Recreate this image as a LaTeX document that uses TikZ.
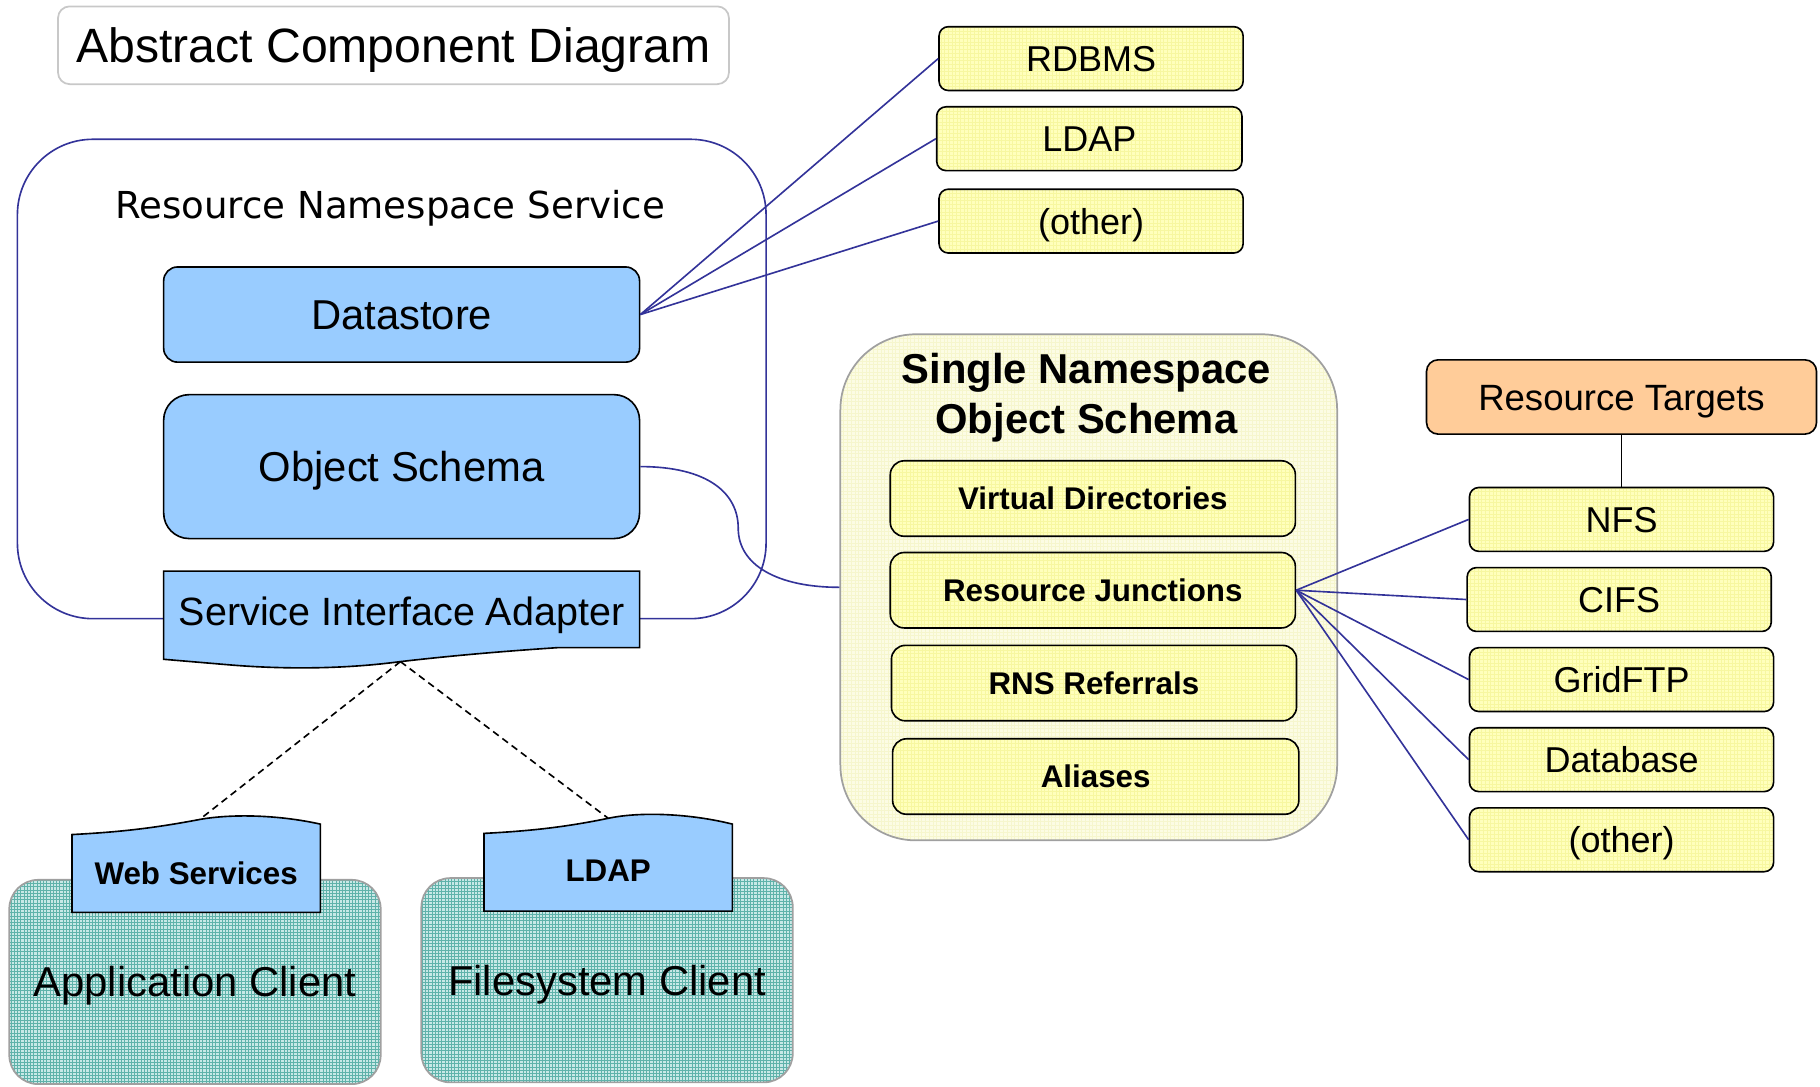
\documentclass[tikz,border=0pt]{standalone}
\usepackage{fontspec}
\setmainfont{Liberation Sans}
\newfontfamily\dejavu{DejaVu Sans}
\usetikzlibrary{calc}
\definecolor{navyline}{RGB}{51,51,153}
\definecolor{boxblue}{RGB}{153,204,255}
\definecolor{paleyel}{RGB}{255,255,188}
\definecolor{yelgrid}{RGB}{247,247,160}
\definecolor{schemabg}{RGB}{252,252,228}
\definecolor{schemagrid}{RGB}{246,246,205}
\definecolor{orangebox}{RGB}{255,204,153}
\definecolor{tealfill}{RGB}{200,232,230}
\definecolor{tealgrid}{RGB}{95,178,170}
\definecolor{titlegray}{RGB}{200,200,200}
\definecolor{midgray}{RGB}{160,160,160}
\begin{document}
\begin{tikzpicture}[x=1pt,y=-1pt,
  capc/.style={text height=#1, text depth=0pt},
  gridfill/.style 2 args={path picture={\draw[#1, line width=0.3pt, step=#2] (path picture bounding box.south west) grid (path picture bounding box.north east);}},
  conn/.style={draw=navyline, line width=1.4pt},
  blk/.style={draw=black, line width=1.4pt},
  bluebox/.style={blk, fill=boxblue, inner sep=0pt, rounded corners=12pt, font=\fontsize{36}{40}\selectfont, capc=25.8pt},
  yelbox/.style={blk, fill=paleyel, gridfill={yelgrid}{3.2pt}, inner sep=0pt, rounded corners=8pt, minimum width=262pt, minimum height=55pt, font=\fontsize{31}{36}\selectfont, capc=22.3pt},
  innerbox/.style={blk, fill=paleyel, gridfill={yelgrid}{3.2pt}, inner sep=0pt, rounded corners=12pt, minimum width=349pt, minimum height=65pt, font=\bfseries\fontsize{27}{32}\selectfont, capc=19.4pt},
  tealbox/.style={draw=midgray, line width=1.5pt, fill=tealfill, gridfill={tealgrid}{2.8pt}, inner sep=0pt, rounded corners=25pt, minimum width=320pt, minimum height=176pt, font=\fontsize{36}{40}\selectfont, capc=25.8pt},
  tabtext/.style={font=\bfseries\fontsize{27}{32}\selectfont, inner sep=0pt, capc=19.4pt},
  plaintext/.style={inner sep=0pt},
  dashconn/.style={line width=1.4pt, dash pattern=on 6pt off 4pt}]
\useasboundingbox (0,0) rectangle (1568,936);

% title
\node[draw=titlegray, line width=1.5pt, rounded corners=10pt, minimum width=578pt, minimum height=67pt, inner sep=0pt, font=\fontsize{41.5}{48}\selectfont, capc=29.9pt] (title) at (339,39) {Abstract Component Diagram};

% Resource Namespace Service container
\node[draw=navyline, line width=1.4pt, rounded corners=65pt, minimum width=645pt, minimum height=413pt, inner sep=0pt] (rns) at (337.5,326.5) {};
\node[plaintext, font=\dejavu\fontsize{32}{36}\selectfont, capc=23.3pt] (rnslabel) at (336,177) {Resource Namespace Service};

\node[bluebox, minimum width=410pt, minimum height=82pt] (ds) at (346,271) {Datastore};
\node[bluebox, rounded corners=22pt, minimum width=410pt, minimum height=124pt] (os) at (346,402) {Object Schema};

% Service Interface Adapter
\path[blk, fill=boxblue] (141,492) -- (551,492) -- (551,558) -- (480,558)
  .. controls (420,562) and (380,566) .. (345,570)
  .. controls (300,576) and (250,577) .. (200,573) -- (141,568) -- cycle;
\node[plaintext, font=\fontsize{34}{38}\selectfont, capc=24.5pt] (sia) at (346,527) {Service Interface Adapter};
\coordinate (siabot) at (345,570);

% clients
\node[tealbox] (appc) at (168,846) {Application Client};
\node[tealbox] (fsc) at (523,844.5) {Filesystem Client};

\path[blk, fill=boxblue] (62,786) -- (62,719) .. controls (100,717) and (130,714) .. (172,706)
  .. controls (200,701) and (240,702) .. (276,710) -- (276,786) -- cycle;
\node[tabtext] (ws) at (169,752) {Web Services};
\coordinate (wstop) at (172,706);

\path[blk, fill=boxblue] (417,785) -- (417,718) .. controls (455,716) and (485,713) .. (524,705)
  .. controls (552,699) and (595,701) .. (631,710) -- (631,785) -- cycle;
\node[tabtext] (ldapc) at (524,750) {LDAP};
\coordinate (ldaptop) at (524,705);

\draw[dashconn] (siabot) -- (wstop);
\draw[dashconn] (siabot) -- (ldaptop);

% datastores
\node[yelbox] (rdbms) at (940,50.5) {RDBMS};
\node[yelbox, minimum width=263pt] (ldap) at (938.5,119.5) {LDAP};
\node[yelbox] (oth1) at (940,190.5) {(other)};
\draw[conn] (ds.east) -- (rdbms.west);
\draw[conn] (ds.east) -- (ldap.west);
\draw[conn] (ds.east) -- (oth1.west);

% Single Namespace Object Schema
\node[draw=midgray, line width=1.5pt, fill=schemabg, gridfill={schemagrid}{3.2pt}, rounded corners=65pt, minimum width=428pt, minimum height=436pt, inner sep=0pt] (snos) at (938,506) {};
\node[inner sep=0pt, align=center, font=\bfseries\fontsize{36}{43}\selectfont] (snostitle) at (936,343) {Single Namespace\\Object Schema};
\node[innerbox] (vd) at (941.5,429.5) {Virtual Directories};
\node[innerbox] (rj) at (941.5,508.5) {Resource Junctions};
\node[innerbox] (rnsr) at (942.5,588.5) {RNS Referrals};
\node[innerbox, minimum width=350pt] (al) at (944,669) {Aliases};

\draw[conn] (os.east) .. controls (610,402) and (636,425) .. (636,455)
  .. controls (636,487) and (670,506) .. (snos.west);

% Resource targets
\node[blk, fill=orangebox, inner sep=0pt, rounded corners=10pt, minimum width=336pt, minimum height=64pt, font=\fontsize{31.5}{36}\selectfont, capc=22.7pt] (rt) at (1397,342) {Resource Targets};
\node[yelbox] (nfs) at (1397,447.5) {NFS};
\node[yelbox] (cifs) at (1395,516.5) {CIFS};
\node[yelbox] (gftp) at (1397,585.5) {GridFTP};
\node[yelbox] (db) at (1397,654.5) {Database};
\node[yelbox] (oth2) at (1397,723.5) {(other)};
\draw[blk] (rt.south) -- (nfs.north);
\foreach \t in {nfs,cifs,gftp,db,oth2} \draw[conn] (rj.east) -- (\t.west);
\end{tikzpicture}
\end{document}
